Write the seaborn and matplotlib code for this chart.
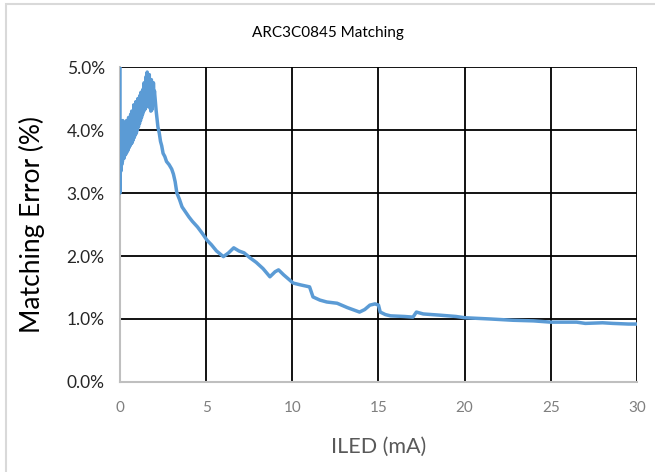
import matplotlib

matplotlib.use("Agg")
import matplotlib.pyplot as plt
import pandas as pd
import seaborn as sns
from matplotlib.patches import Rectangle
from matplotlib.ticker import PercentFormatter

# ILED current (mA) and matching error (%)
iled_ma = [
    0.00, 0.00, 0.02, 0.04, 0.06, 0.08, 0.10, 0.12, 0.14, 0.16, 0.18, 0.20,
    0.23, 0.26, 0.29, 0.32, 0.35, 0.38, 0.41, 0.44, 0.47, 0.50, 0.53, 0.56,
    0.59, 0.62, 0.65, 0.68, 0.71, 0.74, 0.77, 0.80, 0.83, 0.86, 0.89, 0.92,
    0.95, 0.98, 1.01, 1.04, 1.07, 1.10, 1.13, 1.16, 1.19, 1.22, 1.25, 1.28,
    1.31, 1.34, 1.37, 1.40, 1.43, 1.46, 1.49, 1.52, 1.55, 1.58, 1.61, 1.64,
    1.67, 1.70, 1.73, 1.76, 1.79, 1.82, 1.85, 1.88, 1.91, 1.94, 1.97, 2.00,
    2.05, 2.10, 2.15, 2.20, 2.28, 2.35, 2.42, 2.50, 2.60, 2.70, 2.85, 3.00,
    3.10, 3.20, 3.30, 3.45, 3.60, 3.80, 4.00, 4.20, 4.50, 4.80,
    5.05, 5.30, 5.60, 6.00, 6.30, 6.60, 6.90, 7.20, 7.55, 7.90, 8.30, 8.70,
    9.00, 9.20, 9.50, 10.05, 10.50, 11.00, 11.20, 11.60, 12.00, 12.60, 13.20,
    13.90, 14.20, 14.50, 14.80, 15.00, 15.10, 15.40, 15.70, 16.50, 17.00,
    17.20, 17.60, 18.60, 19.50, 20.00, 21.50, 22.80, 24.00, 25.00, 26.50,
    27.00, 28.00, 28.60, 29.50, 30.00,
]
matching_err = [
    5.00, 3.00, 3.40, 4.05, 3.35, 4.10, 3.45, 4.00, 3.50, 4.15, 3.55, 4.05,
    3.55, 4.10, 3.60, 4.05, 3.62, 4.15, 3.65, 4.10, 3.68, 4.20, 3.72, 4.15,
    3.75, 4.25, 3.78, 4.30, 3.80, 4.25, 3.84, 4.40, 3.88, 4.35, 3.92, 4.45,
    3.95, 4.40, 4.00, 4.50, 4.05, 4.45, 4.10, 4.55, 4.15, 4.60, 4.20, 4.55,
    4.25, 4.65, 4.30, 4.75, 4.32, 4.70, 4.35, 4.85, 4.38, 4.92, 4.42, 4.80,
    4.40, 4.88, 4.35, 4.75, 4.30, 4.80, 4.32, 4.70, 4.40, 4.75, 4.50, 4.62,
    4.45, 4.30, 4.18, 4.05, 3.95, 3.82, 3.75, 3.63, 3.58, 3.50, 3.45, 3.38,
    3.30, 3.18, 3.00, 2.90, 2.78, 2.70, 2.62, 2.55, 2.46, 2.35,
    2.25, 2.18, 2.08, 1.99, 2.05, 2.13, 2.08, 2.05, 1.97, 1.90, 1.80, 1.67,
    1.75, 1.78, 1.70, 1.57, 1.54, 1.51, 1.35, 1.30, 1.27, 1.25, 1.18,
    1.11, 1.15, 1.22, 1.24, 1.22, 1.11, 1.07, 1.05, 1.04, 1.03,
    1.11, 1.08, 1.06, 1.04, 1.02, 1.00, 0.98, 0.97, 0.95, 0.95,
    0.93, 0.94, 0.93, 0.92, 0.92,
]
x_ticks = [0, 5, 10, 15, 20, 25, 30]
y_ticks = [0, 1, 2, 3, 4, 5]

df = pd.DataFrame({"iled": iled_ma, "err": matching_err})

sns.set_style("white")
plt.rcParams["font.family"] = ["Lato", "DejaVu Sans"]

fig = plt.figure(figsize=(6.55, 4.72), dpi=100)
ax = fig.add_axes([0.1832, 0.1907, 0.7893, 0.6673])

sns.lineplot(
    data=df, x="iled", y="err", estimator=None, sort=False,
    color="#5B9BD5", lw=2.5, ax=ax, zorder=3,
)

ax.set_xlim(0, 30)
ax.set_ylim(0, 5)
ax.set_xticks(x_ticks)
ax.set_yticks(y_ticks)
ax.yaxis.set_major_formatter(PercentFormatter(decimals=1))
ax.grid(True, color="black", lw=1.3, zorder=1)
ax.tick_params(length=0)
ax.tick_params(axis="x", colors="#7F7F7F", labelsize=11, pad=14)
ax.tick_params(axis="y", colors="#262626", labelsize=12.5, pad=11)

for side in ["top", "right"]:
    ax.spines[side].set_visible(False)
for side in ["left", "bottom"]:
    ax.spines[side].set_color("#BFBFBF")
    ax.spines[side].set_linewidth(1.5)
    ax.spines[side].set_zorder(2)

ax.set_xlabel("ILED (mA)", fontsize=15.5, color="#595959")
ax.set_ylabel("Matching Error (%)", fontsize=19, color="black")
ax.xaxis.set_label_coords(0.5, -0.175)
ax.yaxis.set_label_coords(-0.145, 0.5)
fig.text(0.5, 1 - 33 / 472, "ARC3C0845 Matching", ha="center", va="center", fontsize=11, color="black")

# light frame around the chart area, as in the spreadsheet export
fig.patches.append(Rectangle((6 / 655, -0.1), 2, 1.1 - 4 / 472, transform=fig.transFigure,
                             fill=False, edgecolor="#D9D9D9", lw=1.5))

fig.savefig("out.png", dpi=100)
plt.close(fig)
